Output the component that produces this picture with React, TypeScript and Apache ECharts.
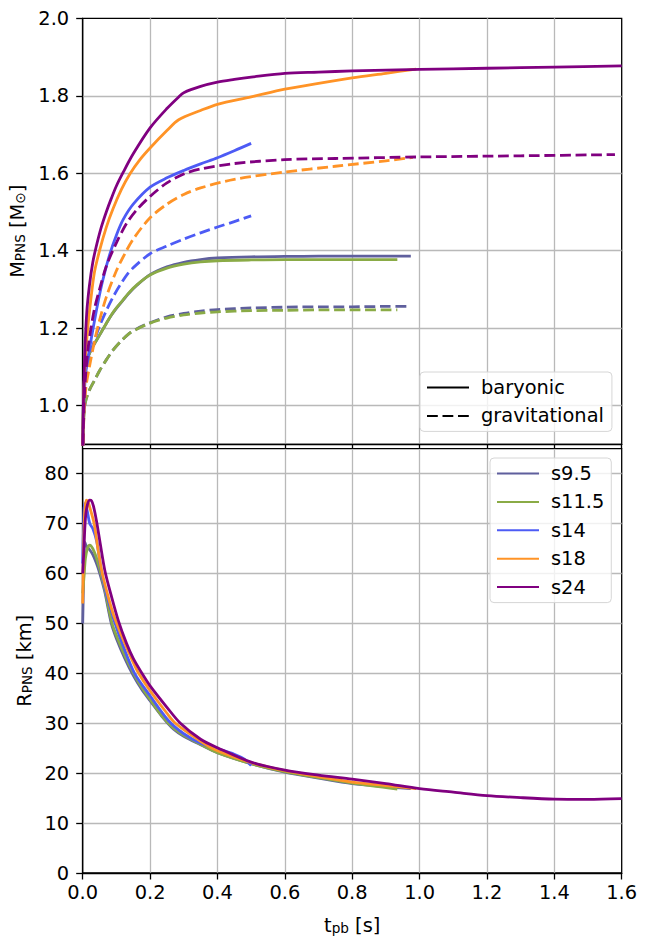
import { useEffect, useRef } from 'react';
import * as echarts from 'echarts';

const FONT = 'DejaVu Sans';
const FS = 19.4;

const MODELS = ['s9.5', 's11.5', 's14', 's18', 's24'];
const COLORS = ['#5f5f9d', '#8aab46', '#4d5bf5', '#ff9326', '#800080'];

const X_MIN = 0;
const X_MAX = 1.6;
const X_STEP = 0.2;
const M_MIN = 0.9;
const M_MAX = 2.0;
const M_TICKS = [1.0, 1.2, 1.4, 1.6, 1.8, 2.0];
const R_MIN = 0;
const R_MAX = 85;
const R_STEP = 10;
const R_TICKS = [0, 10, 20, 30, 40, 50, 60, 70, 80];

// ---- baryonic mass [Msun] ----
const tMb_s95 = [0, 0.003, 0.008, 0.016, 0.03, 0.05, 0.07, 0.085, 0.1, 0.12, 0.135, 0.16, 0.2, 0.25, 0.3, 0.35, 0.4, 0.5, 0.6, 0.7, 0.8, 0.9, 0.974];
const Mb_s95 = [0.88, 1.04, 1.09, 1.125, 1.152, 1.182, 1.212, 1.233, 1.251, 1.272, 1.288, 1.31, 1.338, 1.358, 1.37, 1.377, 1.381, 1.384, 1.385, 1.386, 1.386, 1.386, 1.386];
const tMb_s115 = [0, 0.003, 0.008, 0.016, 0.03, 0.05, 0.07, 0.085, 0.1, 0.12, 0.135, 0.16, 0.2, 0.25, 0.3, 0.35, 0.4, 0.5, 0.6, 0.7, 0.8, 0.9, 0.934];
const Mb_s115 = [0.88, 1.035, 1.09, 1.125, 1.152, 1.182, 1.212, 1.234, 1.252, 1.273, 1.289, 1.311, 1.337, 1.355, 1.365, 1.371, 1.374, 1.376, 1.377, 1.377, 1.377, 1.377, 1.377];
const tMb_s14 = [0, 0.004, 0.01, 0.02, 0.03, 0.045, 0.06, 0.08, 0.1, 0.12, 0.15, 0.2, 0.25, 0.3, 0.35, 0.4, 0.45, 0.5];
const Mb_s14 = [0.88, 1.02, 1.09, 1.145, 1.195, 1.265, 1.325, 1.39, 1.44, 1.48, 1.52, 1.564, 1.588, 1.607, 1.624, 1.64, 1.658, 1.677];
const tMb_s18 = [0, 0.003, 0.008, 0.015, 0.025, 0.035, 0.05, 0.07, 0.09, 0.115, 0.14, 0.17, 0.2, 0.25, 0.285, 0.35, 0.4, 0.5, 0.6, 0.7, 0.8, 0.9, 0.99];
const Mb_s18 = [0.88, 1.02, 1.12, 1.2, 1.28, 1.345, 1.4, 1.46, 1.508, 1.558, 1.598, 1.635, 1.665, 1.71, 1.738, 1.762, 1.778, 1.797, 1.817, 1.832, 1.846, 1.858, 1.869];
const tMb_s24 = [0, 0.002, 0.006, 0.012, 0.02, 0.03, 0.04, 0.055, 0.07, 0.085, 0.1, 0.12, 0.15, 0.2, 0.25, 0.285, 0.3, 0.35, 0.4, 0.45, 0.5, 0.6, 0.7, 0.8, 1.0, 1.2, 1.4, 1.6];
const Mb_s24 = [0.88, 1.0, 1.13, 1.24, 1.31, 1.37, 1.41, 1.46, 1.5, 1.535, 1.567, 1.602, 1.65, 1.717, 1.767, 1.797, 1.808, 1.824, 1.835, 1.842, 1.848, 1.858, 1.861, 1.864, 1.868, 1.871, 1.874, 1.877];

// ---- gravitational mass [Msun] ----
const tMg_s95 = [0, 0.003, 0.008, 0.02, 0.035, 0.05, 0.07, 0.09, 0.11, 0.135, 0.16, 0.2, 0.25, 0.3, 0.35, 0.4, 0.5, 0.6, 0.7, 0.8, 0.9, 0.97];
const Mg_s95 = [0.88, 0.97, 1.01, 1.04, 1.065, 1.09, 1.118, 1.143, 1.163, 1.184, 1.198, 1.214, 1.229, 1.238, 1.244, 1.248, 1.252, 1.254, 1.255, 1.255, 1.256, 1.256];
const tMg_s115 = [0, 0.003, 0.008, 0.02, 0.035, 0.05, 0.07, 0.09, 0.11, 0.135, 0.16, 0.2, 0.25, 0.3, 0.35, 0.4, 0.5, 0.6, 0.7, 0.8, 0.9, 0.934];
const Mg_s115 = [0.88, 0.965, 1.008, 1.04, 1.065, 1.09, 1.118, 1.143, 1.163, 1.184, 1.197, 1.213, 1.226, 1.234, 1.239, 1.242, 1.245, 1.246, 1.247, 1.247, 1.247, 1.247];
const tMg_s14 = [0, 0.004, 0.01, 0.016, 0.03, 0.05, 0.07, 0.09, 0.11, 0.135, 0.16, 0.2, 0.25, 0.3, 0.35, 0.4, 0.45, 0.5];
const Mg_s14 = [0.86, 0.99, 1.07, 1.11, 1.155, 1.205, 1.245, 1.28, 1.31, 1.342, 1.364, 1.392, 1.412, 1.43, 1.446, 1.461, 1.475, 1.49];
const tMg_s18 = [0, 0.004, 0.01, 0.02, 0.036, 0.05, 0.07, 0.1, 0.125, 0.15, 0.2, 0.25, 0.3, 0.35, 0.45, 0.6, 0.75, 0.9, 0.98];
const Mg_s18 = [0.86, 0.98, 1.05, 1.1, 1.17, 1.22, 1.28, 1.348, 1.392, 1.43, 1.485, 1.52, 1.545, 1.562, 1.584, 1.603, 1.618, 1.632, 1.641];
const tMg_s24 = [0, 0.003, 0.008, 0.015, 0.022, 0.035, 0.05, 0.07, 0.1, 0.13, 0.16, 0.2, 0.25, 0.3, 0.35, 0.45, 0.6, 0.75, 1.0, 1.3, 1.58];
const Mg_s24 = [0.86, 0.98, 1.07, 1.14, 1.186, 1.25, 1.3, 1.36, 1.42, 1.47, 1.505, 1.54, 1.575, 1.598, 1.611, 1.625, 1.635, 1.638, 1.642, 1.645, 1.648];

// ---- PNS radius [km] ----
const tR_s95 = [0, 0.003, 0.006, 0.01, 0.02, 0.03, 0.04, 0.05, 0.065, 0.085, 0.1, 0.125, 0.15, 0.175, 0.2, 0.235, 0.27, 0.3, 0.35, 0.4, 0.5, 0.6, 0.7, 0.8, 0.9, 0.974];
const R_s95 = [50, 60, 66.3, 65.6, 64.8, 63.8, 62.2, 60.2, 56.5, 50, 47, 43, 39.6, 36.8, 34.5, 31.4, 28.8, 27.4, 25.7, 24.1, 21.9, 20.2, 19, 17.9, 17.3, 16.9];
const tR_s115 = [0, 0.004, 0.008, 0.014, 0.021, 0.03, 0.04, 0.05, 0.065, 0.087, 0.1, 0.125, 0.151, 0.175, 0.2, 0.235, 0.27, 0.3, 0.35, 0.4, 0.5, 0.6, 0.7, 0.8, 0.934];
const R_s115 = [56, 59.5, 63, 65, 65.7, 65, 63.3, 61, 57, 50, 47.6, 43.6, 40, 37.2, 34.8, 31.5, 29, 27.6, 25.8, 24.1, 21.9, 20.3, 19.1, 18, 16.8];
const tR_s14 = [0, 0.002, 0.006, 0.012, 0.021, 0.03, 0.042, 0.054, 0.07, 0.085, 0.096, 0.12, 0.154, 0.2, 0.255, 0.3, 0.35, 0.4, 0.45, 0.48, 0.5];
const R_s14 = [62, 68, 74, 73, 70, 69, 66.3, 61, 56, 52.5, 50, 45.5, 40, 35.5, 30.5, 27.9, 26, 24.9, 23.8, 22.8, 21.5];
const tR_s18 = [0, 0.002, 0.005, 0.01, 0.015, 0.02, 0.034, 0.045, 0.058, 0.075, 0.09, 0.101, 0.125, 0.15, 0.166, 0.2, 0.25, 0.275, 0.35, 0.4, 0.5, 0.6, 0.7, 0.8, 0.9, 0.99];
const R_s18 = [54, 62, 71, 74.7, 74.5, 73.5, 70, 65, 60, 55.5, 52, 50, 46, 42.2, 40, 36.5, 32, 30, 26.4, 24.5, 22.1, 20.5, 19.3, 18.2, 17.5, 16.9];
const tR_s24 = [0, 0.003, 0.008, 0.014, 0.021, 0.026, 0.032, 0.041, 0.052, 0.066, 0.085, 0.106, 0.13, 0.15, 0.176, 0.2, 0.25, 0.29, 0.35, 0.4, 0.5, 0.6, 0.7, 0.8, 0.9, 1.0, 1.1, 1.2, 1.3, 1.4, 1.5, 1.6];
const R_s24 = [60, 64, 71, 73.8, 74.7, 74.6, 73.5, 70.5, 66, 60.5, 55.5, 50.5, 46, 43, 40, 37.5, 33.2, 30, 26.8, 25.1, 22.2, 20.6, 19.6, 18.8, 17.9, 16.9, 16.2, 15.5, 15.1, 14.8, 14.75, 14.9];

const MASS_B_T = [tMb_s95, tMb_s115, tMb_s14, tMb_s18, tMb_s24];
const MASS_B_V = [Mb_s95, Mb_s115, Mb_s14, Mb_s18, Mb_s24];
const MASS_G_T = [tMg_s95, tMg_s115, tMg_s14, tMg_s18, tMg_s24];
const MASS_G_V = [Mg_s95, Mg_s115, Mg_s14, Mg_s18, Mg_s24];
const RAD_T = [tR_s95, tR_s115, tR_s14, tR_s18, tR_s24];
const RAD_V = [R_s95, R_s115, R_s14, R_s18, R_s24];

const pairs = (t: number[], v: number[]) => t.map((x, i) => [x, v[i]]);

const LW = 2.8;
const DASH = [10.8, 4.7];
const SMOOTH = 0.3;

export default function App() {
  const ref = useRef<HTMLDivElement>(null);

  useEffect(() => {
    if (!ref.current) return;
    const chart = echarts.init(ref.current, undefined, { renderer: 'svg' });

    const txt = { fontFamily: FONT, fontSize: FS, color: '#000' };
    const rich = {
      a: { fontFamily: FONT, fontSize: FS, color: '#000', lineHeight: 24, verticalAlign: 'bottom' },
      b: { fontFamily: FONT, fontSize: 13.6, color: '#000', lineHeight: 15, verticalAlign: 'bottom' },
    };
    const axisLine = { show: true, onZero: false, lineStyle: { color: '#000', width: 1.3 } };
    const gridColor = '#b9b9b9';
    const tickStyle = { color: '#000', width: 1.3 };

    const line = (name: string, xi: number, t: number[], v: number[], color: string, dashed: boolean, z: number) => ({
      name,
      type: 'line',
      xAxisIndex: xi,
      yAxisIndex: xi,
      data: pairs(t, v),
      symbol: 'none',
      smooth: SMOOTH,
      lineStyle: { color, width: LW, type: dashed ? DASH : 'solid', join: 'round', cap: 'butt' },
      itemStyle: { color },
      z,
    });

    const series: any[] = [];
    MODELS.forEach((m, i) => {
      series.push(line(m + ' baryonic', 0, MASS_B_T[i], MASS_B_V[i], COLORS[i], false, 3 + i));
      series.push(line(m + ' gravitational', 0, MASS_G_T[i], MASS_G_V[i], COLORS[i], true, 3 + i));
    });
    MODELS.forEach((m, i) => {
      series.push(line(m, 1, RAD_T[i], RAD_V[i], COLORS[i], false, 3 + i));
    });
    series.push({
      name: 'baryonic', type: 'line', xAxisIndex: 0, yAxisIndex: 0, data: [], symbol: 'none',
      lineStyle: { color: '#000', width: LW }, itemStyle: { color: '#000' },
    });
    series.push({
      name: 'gravitational', type: 'line', xAxisIndex: 0, yAxisIndex: 0, data: [], symbol: 'none',
      lineStyle: { color: '#000', width: LW, type: DASH }, itemStyle: { color: '#000' },
    });

    const legendCommon = {
      orient: 'vertical',
      selectedMode: false,
      itemWidth: 42,
      itemHeight: 14,
      itemGap: 9.4,
      backgroundColor: 'rgba(255,255,255,0.8)',
      borderColor: '#d6d6d6',
      borderWidth: 1,
      borderRadius: 4,
      itemStyle: { opacity: 0, color: 'rgba(0,0,0,0)', borderWidth: 0 },
      textStyle: { ...txt, padding: [0, 0, 0, 7] },
    };

    chart.setOption({
      animation: false,
      backgroundColor: '#fff',
      grid: [
        { left: 82.7, top: 18.3, width: 539, height: 426, show: true, borderColor: '#000', borderWidth: 1.3, backgroundColor: 'transparent' },
        { left: 82.7, top: 448.7, width: 539, height: 426.3, show: true, borderColor: '#000', borderWidth: 1.3, backgroundColor: 'transparent' },
      ],
      xAxis: [
        {
          gridIndex: 0, type: 'value', min: X_MIN, max: X_MAX, interval: X_STEP,
          axisLine,
          axisTick: { show: true, inside: false, length: 4.5, lineStyle: tickStyle },
          axisLabel: { show: false },
          splitLine: { show: true, showMinLine: false, showMaxLine: false, lineStyle: { color: gridColor, width: 1.3 } },
        },
        {
          gridIndex: 1, type: 'value', min: X_MIN, max: X_MAX, interval: X_STEP,
          axisLine,
          axisTick: { show: true, inside: false, length: 6.5, lineStyle: tickStyle },
          axisLabel: { ...txt, margin: 10, formatter: (v: number) => v.toFixed(1) },
          splitLine: { show: true, showMinLine: false, showMaxLine: false, lineStyle: { color: gridColor, width: 1.3 } },
          name: '{a|t}{b|pb}{a| [s]}',
          nameLocation: 'middle',
          nameGap: 38,
          nameTextStyle: { ...txt, rich },
        },
      ],
      yAxis: [
        {
          gridIndex: 0, type: 'value', min: M_MIN, max: M_MAX,
          axisLine,
          axisTick: { show: true, inside: false, length: 6.5, lineStyle: tickStyle, customValues: M_TICKS },
          axisLabel: { ...txt, margin: 13.5, customValues: M_TICKS, formatter: (v: number) => v.toFixed(1) },
          splitLine: { show: true, showMinLine: true, showMaxLine: false, lineStyle: { color: gridColor, width: 1.3 } },
          name: '{a|M}{b|PNS}{a| [M}{b|⊙}{a|]}',
          nameLocation: 'middle',
          nameGap: 48,
          nameTextStyle: { ...txt, rich },
        },
        {
          gridIndex: 1, type: 'value', min: R_MIN, max: R_MAX, interval: R_STEP,
          axisLine,
          axisTick: { show: true, inside: false, length: 6.5, lineStyle: tickStyle, customValues: R_TICKS },
          axisLabel: { ...txt, margin: 13.5, customValues: R_TICKS },
          splitLine: { show: true, showMinLine: false, showMaxLine: true, lineStyle: { color: gridColor, width: 1.3 } },
          name: '{a|R}{b|PNS}{a| [km]}',
          nameLocation: 'middle',
          nameGap: 44,
          nameTextStyle: { ...txt, rich },
        },
      ],
      legend: [
        { ...legendCommon, data: ['baryonic', 'gravitational'], left: 420, top: 372, padding: [6, 8, 6, 6] },
        { ...legendCommon, data: MODELS, left: 490, top: 458, padding: [6, 7, 6, 6] },
      ],
      series,
    });

    return () => chart.dispose();
  }, []);

  return <div ref={ref} style={{ position: 'absolute', left: 0, top: 0, width: 650, height: 936 }} />;
}
